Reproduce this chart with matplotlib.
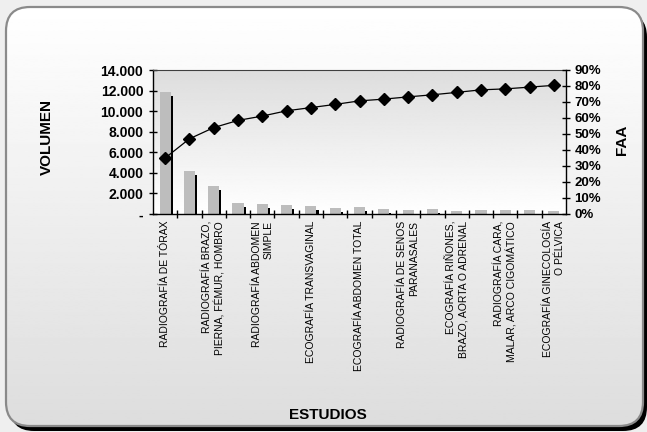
import numpy as np
import matplotlib.pyplot as plt
from matplotlib.patches import FancyBboxPatch
from matplotlib.ticker import FuncFormatter
import matplotlib.patheffects as pe

plt.rcParams['font.family'] = ['Liberation Sans', 'DejaVu Sans']

# volumen por estudio (orden de Pareto) y frecuencia acumulada
volumen = [11900, 4200, 2700, 1100, 1000, 920, 820, 620, 700,
           520, 430, 520, 330, 420, 420, 420, 330]
faa = [35.0, 47.0, 54.0, 58.5, 61.2, 64.5, 66.5, 68.5, 70.7,
       71.8, 73.2, 74.5, 76.0, 77.6, 78.2, 79.3, 80.4]
etiquetas = [
    "RADIOGRAFÍA DE TÓRAX",
    "RADIOGRAFÍA BRAZO,\nPIERNA, FÉMUR, HOMBRO",
    "RADIOGRAFÍA ABDOMEN\nSIMPLE",
    "ECOGRAFÍA TRANSVAGINAL",
    "ECOGRAFÍA ABDOMEN TOTAL",
    "RADIOGRAFÍA DE SENOS\nPARANASALES",
    "ECOGRAFÍA RIÑONES,\nBRAZO, AORTA O ADRENAL",
    "RADIOGRAFÍA CARA,\nMALAR, ARCO CIGOMÁTICO",
    "ECOGRAFÍA GINECOLOGÍA\nO PÉLVICA",
]

W, H = 647, 432
fig = plt.figure(figsize=(W / 100, H / 100), dpi=100)
fig.patch.set_facecolor('#efefef')

# marco redondeado con sombra y degradado
bg = fig.add_axes([0, 0, 1, 1])
bg.axis('off')
box = dict(boxstyle='round,pad=0,rounding_size=24')
sombra = FancyBboxPatch((10, 1), 637, 418, fc='black', ec='none', zorder=0, **box)
bg.add_patch(sombra)
marco = FancyBboxPatch((6, 6), 637, 419, fc='none', ec='#8a8a8a', lw=1.6,
                       zorder=2, **box)
grad = np.linspace(0, 1, 256).reshape(-1, 1)
img = bg.imshow(grad, extent=(6, 643, 6, 425), cmap='gray', vmin=-6.5, vmax=1.0,
                aspect='auto', origin='lower', zorder=1)
bg.add_patch(marco)
img.set_clip_path(marco)
bg.set_xlim(0, W)
bg.set_ylim(0, H)

ax = fig.add_axes([153 / W, 1 - 214 / H, (566 - 153) / W, 144 / H])
ax.patch.set_visible(False)
ax.imshow(np.linspace(1, 0, 256).reshape(-1, 1), extent=(0, 1, 0, 1),
          transform=ax.transAxes, cmap='gray', vmin=-6.5, vmax=1.0,
          aspect='auto', origin='lower', zorder=0)

x = np.arange(len(volumen))
ax.bar(x, volumen, width=0.46, color='#bdbdbd', zorder=2,
       path_effects=[pe.SimplePatchShadow(offset=(1.5, -3), shadow_rgbFace='black', alpha=1),
                     pe.Normal()])
ax.set_xlim(-0.5, len(volumen) - 0.5)
ax.set_ylim(0, 14000)
ax.set_aspect('auto')
ax.set_yticks(np.arange(0, 14001, 2000))
ax.yaxis.set_major_formatter(FuncFormatter(
    lambda v, p: '-' if v == 0 else f'{v:,.0f}'.replace(',', '.')))
ax.tick_params(axis='y', direction='inout', length=6, width=1, pad=4,
               labelsize=10)
for t in ax.get_yticklabels():
    t.set_fontweight('bold')

ax.set_xticks(x[::2])
ax.set_xticklabels(etiquetas, rotation=90, fontsize=7.5, ha='center', va='top',
                   multialignment='right')
ax.set_xticks(np.arange(0.5, len(volumen) - 1, 1), minor=True)
ax.tick_params(axis='x', which='major', length=0, pad=5)
ax.tick_params(axis='x', which='minor', direction='inout', length=6, width=1)

for s in ['left', 'bottom', 'right']:
    ax.spines[s].set_color('black')
    ax.spines[s].set_linewidth(1)
ax.spines['top'].set_color('#404040')
ax.spines['top'].set_linewidth(0.8)

ax2 = ax.twinx()
ax2.plot(x, np.array(faa) / 100, color='black', lw=0.9, marker='D',
         markersize=6.5, zorder=3)
ax2.set_ylim(0, 0.9)
ax2.set_yticks(np.arange(0, 0.91, 0.1))
ax2.yaxis.set_major_formatter(FuncFormatter(lambda v, p: f'{round(v * 100):.0f}%'))
ax2.tick_params(axis='y', direction='inout', length=6, width=1, pad=3,
                labelsize=9.5)
for t in ax2.get_yticklabels():
    t.set_fontweight('bold')
for s in ax2.spines.values():
    s.set_visible(False)

fig.text(47 / W, 1 - 137 / H, 'VOLUMEN', rotation=90, fontsize=11,
         fontweight='bold', ha='center', va='center')
fig.text(622 / W, 1 - 140 / H, 'FAA', rotation=90, fontsize=11,
         fontweight='bold', ha='center', va='center')
fig.text(328 / W, 1 - 415 / H, 'ESTUDIOS', fontsize=11,
         fontweight='bold', ha='center', va='center')

fig.savefig('out.png', dpi=100, facecolor=fig.get_facecolor())
